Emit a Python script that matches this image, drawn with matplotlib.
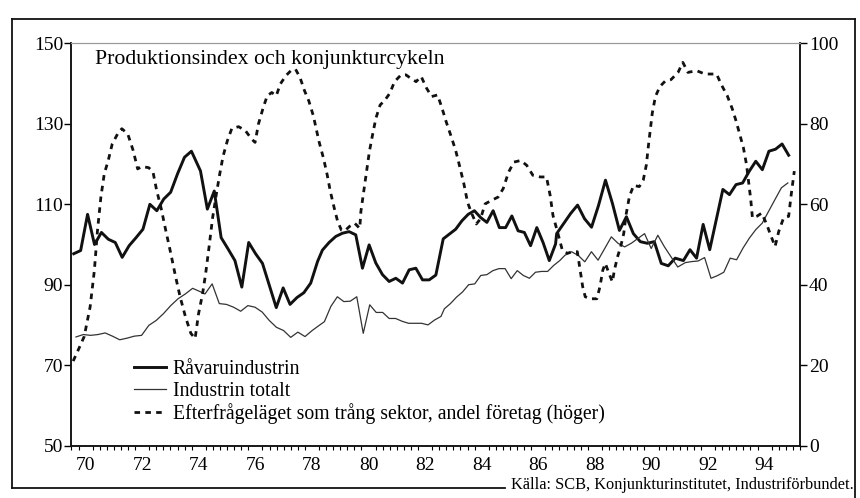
import numpy as np
import matplotlib
matplotlib.use("Agg")
from matplotlib import pyplot as plt
from matplotlib.lines import Line2D

plt.rcParams['font.family'] = ['Liberation Serif', 'DejaVu Serif']

# Råvaruindustrin (vänster axel), avläst i sex avsnitt: (från år, till år, värden)
ravaru_delar = [
    (1970.08, 1974.24, [97.7, 98.5, 107.5, 100, 103, 101.3, 100.5, 96.8, 99.7, 101.7, 103.8, 110, 108.4, 111.3, 113, 117.6, 121.7, 123.2]),
    (1974.56, 1978.70, [118.3, 108.8, 113.3, 101.7, 98.9, 96, 89.4, 100.5, 97.7, 95.3, 89.8, 84.3, 89.2, 85.1, 86.8, 88, 90.4, 95.8]),
    (1978.87, 1982.88, [98.6, 100.5, 102, 102.8, 103.2, 102.4, 94.1, 99.9, 95.4, 92.5, 90.8, 91.6, 90.4, 93.7, 94.1, 91.2, 91.2, 92.4]),
    (1983.14, 1987.11, [101.4, 102.6, 103.8, 105.9, 107.5, 108.4, 106.7, 105.5, 108.4, 104.2, 104.2, 107.1, 103.4, 103, 99.7, 104.2, 100.5, 96, 100.1]),
    (1987.15, 1991.34, [102.7, 105.2, 107.7, 109.8, 106.4, 104.3, 109.7, 116, 110.2, 103.5, 106.9, 102.7, 100.7, 100.3, 100.7, 95.3, 94.7, 96.6]),
    (1991.63, 1995.35, [96, 98.7, 96.6, 105, 98.7, 106.2, 113.7, 112.4, 114.9, 115.3, 118.2, 120.7, 118.6, 123.2, 123.7, 125, 122.2]),
]

# Industrin totalt (vänster axel)
totalt_delar = [
    (1970.16, 1974.54, [77, 77.6, 77.4, 77.6, 78, 77.2, 76.3, 76.7, 77.2, 77.4, 79.9, 81.1, 82.8, 84.8, 86.5, 87.7, 89.1, 88.3]),
    (1974.72, 1978.76, [87.7, 90.2, 85.3, 85.1, 84.4, 83.4, 84.8, 84.4, 83.2, 81.1, 79.4, 78.6, 76.9, 78.2, 77.1, 78.6, 79.9]),
    (1978.94, 1983.06, [80.8, 84.6, 87, 85.8, 85.9, 87, 77.9, 85, 83.1, 83.1, 81.6, 81.6, 80.9, 80.4, 80.4, 80.4, 80, 81.2, 82.1]),
    (1983.18, 1987.26, [84, 85.3, 86.9, 88.2, 90, 90.2, 92.3, 92.5, 93.5, 94, 94, 91.5, 93.5, 92.3, 91.6, 93.1, 93.3, 93.3, 94.8, 96]),
    (1987.44, 1991.43, [97.3, 98.2, 97.3, 95.7, 98.2, 96.1, 99, 101.9, 100.3, 99.4, 100.3, 101.5, 102.7, 99, 102.3, 99.4, 96.9, 94.4]),
    (1991.70, 1995.32, [95.5, 95.75, 95.9, 96.75, 91.6, 92.25, 93.1, 96.6, 96.2, 99.1, 101.6, 103.7, 105.3, 108.25, 111.2, 114.1, 115.3]),
]

# Efterfrågeläget (höger axel), år och andel
eft_ar = [1970.06, 1970.28, 1970.45, 1970.66, 1970.81, 1970.92, 1971.04, 1971.16, 1971.30, 1971.44, 1971.63, 1971.78,
          1971.99, 1972.18, 1972.34, 1972.49, 1972.73, 1972.88, 1973.01, 1973.17, 1973.33, 1973.51, 1973.68, 1973.84,
          1974.03, 1974.22, 1974.37, 1974.49, 1974.63, 1974.74, 1974.86, 1974.99, 1975.12, 1975.24, 1975.36, 1975.51,
          1975.67, 1975.91, 1976.15, 1976.37, 1976.49, 1976.61, 1976.78, 1976.92, 1977.08, 1977.24, 1977.38, 1977.58,
          1977.75, 1977.92, 1978.08, 1978.24, 1978.39, 1978.55, 1978.75, 1978.91, 1979.04, 1979.15, 1979.29, 1979.41,
          1979.54, 1979.66, 1979.83, 1980.01, 1980.19, 1980.23, 1980.33, 1980.43, 1980.53, 1980.64, 1980.76, 1980.91,
          1981.08, 1981.25, 1981.42, 1981.65, 1981.82, 1982.00, 1982.18, 1982.36, 1982.55, 1982.73, 1982.94, 1983.09,
          1983.25, 1983.41, 1983.58, 1983.73, 1983.87, 1984.00, 1984.13, 1984.31, 1984.46, 1984.62, 1984.83, 1985.08,
          1985.26, 1985.45, 1985.64, 1985.88, 1986.09, 1986.31, 1986.57, 1986.79, 1986.92, 1987.02, 1987.15, 1987.35,
          1987.53, 1987.70, 1987.88, 1987.98, 1988.07, 1988.16, 1988.33, 1988.57, 1988.68, 1988.78, 1988.87, 1989.00,
          1989.12, 1989.19, 1989.30, 1989.41, 1989.52, 1989.61, 1989.72, 1989.87, 1990.07, 1990.21, 1990.32, 1990.39,
          1990.46, 1990.53, 1990.64, 1990.80, 1990.98, 1991.19, 1991.44, 1991.61, 1991.79, 1992.09, 1992.39, 1992.80,
          1992.99, 1993.18, 1993.36, 1993.49, 1993.62, 1993.75, 1993.86, 1993.93, 1994.01, 1994.07, 1994.22, 1994.40,
          1994.58, 1994.71, 1994.87, 1995.00, 1995.17, 1995.35, 1995.44, 1995.55]
eft_andel = [21, 24.4, 27.1, 34.5, 43.6, 53.5, 61.8, 67.6, 70.9, 75, 77.5, 78.8,
             77.5, 73.4, 68.8, 69.4, 69.1, 68.1, 63.5, 59, 53.6, 47.8, 42, 37,
             32, 27.9, 26.6, 32.7, 37.6, 42.6, 49.2, 56.7, 62.5, 67.5, 72, 75.8,
             78.9, 79.3, 78.3, 76.2, 75.4, 80, 84.1, 87, 87.8, 87, 89.9, 92,
             93.2, 93.6, 91.5, 88.2, 85.7, 82, 75.6, 71.4, 67.3, 63.2, 59, 55.7,
             53.6, 53.4, 54.5, 55.3, 54, 58.2, 63.2, 68.1, 73.1, 77.2, 81.4, 84.7,
             85.9, 87.6, 90.5, 92.2, 92.2, 91.3, 90.5, 91.8, 88.9, 86.8, 87.2, 84.1,
             80.4, 77.1, 73.4, 69.2, 65.1, 60.5, 58, 55.1, 56.4, 60.1, 60.9, 61.8,
             63.9, 68, 70.5, 70.9, 69.7, 67.2, 66.8, 66.8, 62.2, 57.2, 53.9, 48.6,
             47.8, 48.2, 48.2, 43.6, 39.5, 37, 36.5, 36.5, 39.5, 43.6, 45.3, 42.8,
             40.7, 43.6, 46.9, 49.4, 52.7, 57.7, 61.9, 64.7, 64.4, 66, 69.8, 74.4,
             78.5, 82.7, 86.8, 89.3, 90.6, 91, 92.8, 95.3, 92.8, 93.25, 92.4, 92.4,
             89.5, 87, 83.7, 80.75, 77.4, 74.1, 69.9, 65.75, 61.2, 56.6, 57, 57.8,
             54.9, 52.4, 49.5, 53.25, 56.6, 57, 62.4, 68.25]


def samla(delar):
    ar, varden = [], []
    for fran, till, v in delar:
        ar.extend(np.linspace(fran, till, len(v)))
        varden.extend(v)
    return np.array(ar), np.array(varden)


ar_ravaru, ravaru = samla(ravaru_delar)
ar_totalt, totalt = samla(totalt_delar)

fig = plt.figure(figsize=(8.6, 4.98), dpi=100)
ax = fig.add_axes([0.0831, 0.1054, 0.8471, 0.8073])
ax2 = ax.twinx()

l1, = ax.plot(ar_ravaru, ravaru, color='#111111', lw=2.1)
l2, = ax.plot(ar_totalt, totalt, color='#333333', lw=0.9)
l3, = ax2.plot(eft_ar, eft_andel, color='#111111', lw=2.0, linestyle=(0, (2.0, 1.9)))

ax.set_xlim(1970, 1995.75)
ax.set_ylim(50, 150)
ax2.set_ylim(0, 100)

ax.set_yticks(np.arange(50, 151, 20))
ax2.set_yticks(np.arange(0, 101, 20))
ax.set_xticks(np.arange(1970, 1995, 2) + 0.5)
ax.set_xticklabels([f"{y % 100:02d}" for y in range(1970, 1995, 2)])
ax.set_xticks(np.arange(1970, 1995.8, 0.25), minor=True)

ax.tick_params(axis='y', direction='out', length=5, width=1, labelsize=14, pad=1)
ax.tick_params(axis='x', which='major', length=0, labelsize=14, pad=8)
ax.tick_params(axis='x', which='minor', direction='out', length=3, width=0.8)
ax2.tick_params(axis='y', direction='out', length=5, width=1, labelsize=14, pad=1.5)

for a in (ax, ax2):
    for s in ('left', 'right', 'bottom'):
        a.spines[s].set_linewidth(1.1)
        a.spines[s].set_color('#111111')
    a.spines['top'].set_color('#999999')
    a.spines['top'].set_linewidth(0.8)

ax.text(0.032, 0.985, "Produktionsindex och konjunkturcykeln", transform=ax.transAxes,
        fontsize=15.7, ha='left', va='top')

ax.legend([l1, l2, l3],
          ["Råvaruindustrin", "Industrin totalt",
           "Efterfrågeläget som trång sektor, andel företag (höger)"],
          loc='upper left', bbox_to_anchor=(0.086, 0.212), frameon=False,
          fontsize=14.2, handlelength=1.6, handletextpad=0.35, labelspacing=0.13,
          borderpad=0, borderaxespad=0)

fig.text(854 / 860, 1 - 485 / 498, "Källa: SCB, Konjunkturinstitutet, Industriförbundet.",
         ha='right', va='center', fontsize=11.8)

# yttre ram
fx = lambda px: px / 860
fy = lambda py: 1 - py / 498
frame = [([12, 855], [19, 19]), ([12, 12], [19, 488]), ([855, 855], [19, 498]), ([12, 505], [488, 488])]
for xs, ys in frame:
    fig.add_artist(Line2D([fx(v) for v in xs], [fy(v) for v in ys], color='#111111', lw=1.3))

fig.savefig("out.png", dpi=100)
